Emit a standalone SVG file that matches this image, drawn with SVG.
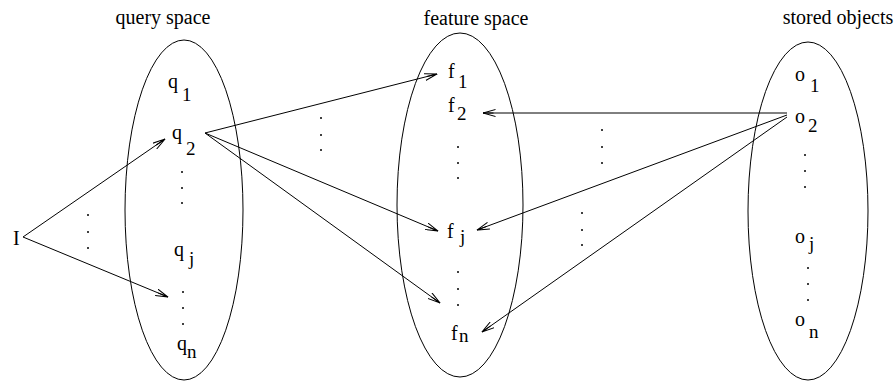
<svg xmlns="http://www.w3.org/2000/svg" width="896" height="381" viewBox="0 0 896 381">
<defs>
<style>
text{font-family:"Liberation Serif","Times New Roman",serif;fill:#000}
.lbl{font-size:20px;text-anchor:middle}
.v{font-size:20px}
.s{font-size:19px}
.e{fill:none;stroke:#000;stroke-width:1}
.c{fill:none;stroke:#000;stroke-width:1;marker-end:url(#ah)}
.d{fill:#000}
</style>
<marker id="ah" viewBox="0 0 13 8" refX="12.5" refY="4" markerWidth="13" markerHeight="8" markerUnits="userSpaceOnUse" orient="auto">
<path d="M0,0.5 L12.5,4 L0,7.5 M2,4 L12.5,4" fill="none" stroke="#000" stroke-width="1"/>
</marker>
</defs>
<rect width="896" height="381" fill="#fff"/>

<g id="query-space">
<ellipse class="e" cx="184" cy="210" rx="59" ry="170"/>
<text class="lbl" x="163" y="24">query space</text>
<text class="v" x="168" y="88">q</text><text class="s" x="182" y="101">1</text>
<text class="v" x="172" y="139">q</text><text class="s" x="186" y="155">2</text>
<circle class="d" cx="182" cy="172" r="1"/><circle class="d" cx="182" cy="188" r="1"/><circle class="d" cx="182" cy="203" r="1"/>
<text class="v" x="174" y="256">q</text><text class="s" x="189" y="265">j</text>
<circle class="d" cx="183" cy="292" r="1"/><circle class="d" cx="183" cy="308" r="1"/><circle class="d" cx="183" cy="324" r="1"/>
<text class="v" x="177" y="350">q</text><text class="s" x="187" y="358">n</text>
</g>

<g id="feature-space">
<ellipse class="e" cx="460" cy="205" rx="63" ry="172"/>
<text class="lbl" x="476" y="25">feature space</text>
<text class="v" x="448" y="78">f</text><text class="s" x="458" y="88">1</text>
<text class="v" x="448" y="112">f</text><text class="s" x="457" y="120">2</text>
<circle class="d" cx="458" cy="147" r="1"/><circle class="d" cx="458" cy="163" r="1"/><circle class="d" cx="458" cy="178" r="1"/>
<text class="v" x="447" y="238">f</text><text class="s" x="460" y="243">j</text>
<circle class="d" cx="458" cy="272" r="1"/><circle class="d" cx="458" cy="289" r="1"/><circle class="d" cx="458" cy="305" r="1"/>
<text class="v" x="451" y="340">f</text><text class="s" x="459" y="342">n</text>
</g>

<g id="stored-objects">
<ellipse class="e" cx="808" cy="211" rx="60" ry="169"/>
<text class="lbl" x="838" y="24">stored objects</text>
<text class="v" x="795" y="81">o</text><text class="s" x="810" y="92">1</text>
<text class="v" x="795" y="123">o</text><text class="s" x="808" y="132">2</text>
<circle class="d" cx="805" cy="155" r="1"/><circle class="d" cx="805" cy="171" r="1"/><circle class="d" cx="805" cy="187" r="1"/>
<text class="v" x="795" y="243">o</text><text class="s" x="809" y="250">j</text>
<circle class="d" cx="808" cy="268" r="1"/><circle class="d" cx="808" cy="284" r="1"/><circle class="d" cx="808" cy="300" r="1"/>
<text class="v" x="795" y="326">o</text><text class="s" x="809" y="338">n</text>
</g>

<g id="input">
<text class="v" x="13" y="245">I</text>
</g>

<g id="connectors">
<line class="c" x1="23" y1="237" x2="165" y2="139"/>
<line class="c" x1="23" y1="237" x2="168" y2="297"/>
<line class="c" x1="205" y1="133" x2="437" y2="74"/>
<line class="c" x1="205" y1="133" x2="438" y2="231"/>
<line class="c" x1="205" y1="133" x2="440" y2="303"/>
<line class="c" x1="787" y1="113" x2="483" y2="113"/>
<line class="c" x1="787" y1="115" x2="477" y2="230"/>
<line class="c" x1="787" y1="117" x2="482" y2="332"/>
<circle class="d" cx="88" cy="215" r="1"/><circle class="d" cx="88" cy="232" r="1"/><circle class="d" cx="88" cy="248" r="1"/>
<circle class="d" cx="321" cy="118" r="1"/><circle class="d" cx="321" cy="135" r="1"/><circle class="d" cx="321" cy="150" r="1"/>
<circle class="d" cx="602" cy="130" r="1"/><circle class="d" cx="602" cy="147" r="1"/><circle class="d" cx="602" cy="163" r="1"/>
<circle class="d" cx="582" cy="213" r="1"/><circle class="d" cx="582" cy="230" r="1"/><circle class="d" cx="582" cy="245" r="1"/>
</g>
</svg>
